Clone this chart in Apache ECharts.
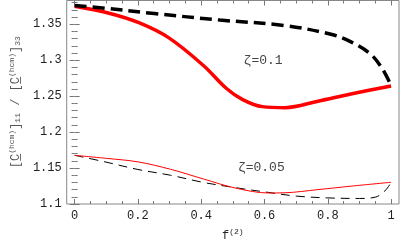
<!DOCTYPE html>
<html><head><meta charset="utf-8">
<script src="https://cdn.jsdelivr.net/npm/echarts@6/dist/echarts.min.js"></script>
<style>html,body{margin:0;padding:0;background:#fff}#c{width:400px;height:247px}</style>
</head><body><div id="c"></div>
<script>
// ---- data ----
const thickDashX = [0, 0.08, 0.252, 0.459, 0.665, 0.81, 0.873, 0.935, 0.971, 1.0];
const thickDashY = [1.376, 1.373, 1.3649, 1.3558, 1.3481, 1.336, 1.3255, 1.3085, 1.289, 1.265];
const thickRedX = [0, 0.112, 0.205, 0.298, 0.407, 0.479, 0.531, 0.593, 0.665, 0.769, 0.873, 1.0];
const thickRedY = [1.375, 1.365, 1.3518, 1.331, 1.2926, 1.261, 1.2452, 1.2354, 1.234, 1.243, 1.253, 1.2642];
const thinRedX = [0, 0.1, 0.2, 0.303, 0.407, 0.51, 0.614, 0.665, 0.769, 0.873, 1.0];
const thinRedY = [1.1677, 1.1635, 1.1586, 1.1483, 1.1348, 1.122, 1.1153, 1.1156, 1.12, 1.1248, 1.1302];
const thinDashX = [0, 0.096, 0.2, 0.303, 0.407, 0.51, 0.614, 0.7, 0.8, 0.9, 0.95, 0.98, 1.0];
const thinDashY = [1.1677, 1.1586, 1.148, 1.140, 1.130, 1.1226, 1.116, 1.111, 1.1085, 1.1077, 1.1095, 1.118, 1.13];
const xMajorTicks = [0, 0.2, 0.4, 0.6, 0.8, 1];
const xTickLabels = ['0', '0.2', '0.4', '0.6', '0.8', '1'];
const xMinorTicks = [0.05, 0.1, 0.15, 0.25, 0.3, 0.35, 0.45, 0.5, 0.55, 0.65, 0.7, 0.75, 0.85, 0.9, 0.95];
const yMajorTicks = [1.1, 1.15, 1.2, 1.25, 1.3, 1.35];
const yTickLabels = ['1.1', '1.15', '1.2', '1.25', '1.3', '1.35'];
const yMinorTicks = [1.11, 1.12, 1.13, 1.14, 1.16, 1.17, 1.18, 1.19, 1.21, 1.22, 1.23, 1.24, 1.26, 1.27, 1.28, 1.29, 1.31, 1.32, 1.33, 1.34, 1.36, 1.37, 1.38];
const annotations = [
  { text: 'ζ=0.1', x: 0.534, y: 1.2994 },
  { text: 'ζ=0.05', x: 0.516, y: 1.1505 }
];
// ---- chart ----
const X_MIN = -0.025, X_MAX = 1.025, Y_MIN = 1.1, Y_MAX = 1.383;
const FONT = "'Liberation Mono', 'Courier New', monospace";
const zip = (a, b) => a.map((v, i) => [v, b[i]]);
const chart = echarts.init(document.getElementById('c'), null, { renderer: 'canvas' });
function xAx(pos, ticks, len, labels, extra) {
  return Object.assign({
    type: 'value', min: X_MIN, max: X_MAX, position: pos,
    splitLine: { show: false },
    axisLine: { show: false },
    axisTick: { show: true, inside: true, length: len, customValues: ticks, lineStyle: { color: '#777' } },
    axisLabel: labels ? { show: true, customValues: xMajorTicks, margin: 6, fontFamily: FONT, fontSize: 12, color: '#222',
      formatter: v => { const i = xMajorTicks.findIndex(t => Math.abs(t - v) < 1e-9); return i >= 0 ? xTickLabels[i] : ''; } } : { show: false }
  }, extra || {});
}
function yAx(pos, ticks, len, labels, extra) {
  return Object.assign({
    type: 'value', min: Y_MIN, max: Y_MAX, position: pos,
    splitLine: { show: false },
    axisLine: { show: false },
    axisTick: { show: true, inside: true, length: len, customValues: ticks, lineStyle: { color: '#777' } },
    axisLabel: labels ? { show: true, customValues: yMajorTicks, margin: 5, fontFamily: FONT, fontSize: 12, color: '#222',
      formatter: v => { const i = yMajorTicks.findIndex(t => Math.abs(t - v) < 1e-9); return i >= 0 ? yTickLabels[i] : ''; } } : { show: false }
  }, extra || {});
}
chart.setOption({
  animation: false,
  grid: { left: 61, right: 1, top: 0.5, bottom: 38, show: true, borderColor: '#888', borderWidth: 1, backgroundColor: 'transparent' },
  xAxis: [
    xAx('bottom', xMajorTicks, 5, true, {
      name: '{f|f}{s|(2)}', nameLocation: 'middle', nameGap: 22,
      nameTextStyle: { fontFamily: FONT, color: '#222', rich: {
        f: { fontFamily: FONT, fontSize: 12, color: '#222', padding: [4, 0, 0, 0] },
        s: { fontFamily: FONT, fontSize: 8, color: '#222', padding: [0, 0, 4, 0] } } }
    }),
    xAx('bottom', xMinorTicks, 3, false),
    xAx('top', xMajorTicks, 5, false),
    xAx('top', xMinorTicks, 3, false)
  ],
  yAxis: [
    yAx('left', yMajorTicks, 5, true, {
      name: '[{u|C̲}{s|(hcm)}]{b|11} / [{u|C̲}{s|(hcm)}]{b|33}', nameLocation: 'middle', nameGap: 43, nameRotate: 90,
      nameTextStyle: { fontFamily: FONT, fontSize: 12, color: '#555', rich: {
        u: { fontFamily: FONT, fontSize: 12, color: '#555' },
        s: { fontFamily: FONT, fontSize: 8, color: '#555', padding: [0, 0, 7, 0] },
        b: { fontFamily: FONT, fontSize: 8, color: '#555', padding: [5, 0, 0, 0] } } }
    }),
    yAx('left', yMinorTicks, 3, false),
    yAx('right', yMajorTicks, 5, false),
    yAx('right', yMinorTicks, 3, false)
  ],
  series: [
    { type: 'line', name: 'thin dashed', data: zip(thinDashX, thinDashY), smooth: 0.35, symbol: 'none',
      lineStyle: { color: '#000', width: 1, type: [9, 6] }, z: 2 },
    { type: 'line', name: 'thin red', data: zip(thinRedX, thinRedY), smooth: 0.35, symbol: 'none',
      lineStyle: { color: '#ff0000', width: 1 }, z: 3 },
    { type: 'line', name: 'thick red', data: zip(thickRedX, thickRedY), smooth: 0.35, symbol: 'none',
      lineStyle: { color: '#ff0000', width: 3.5 }, z: 4 },
    { type: 'line', name: 'thick dashed', data: zip(thickDashX, thickDashY), smooth: 0.35, symbol: 'none',
      lineStyle: { color: '#000', width: 3.5, type: [12, 6] }, z: 5 }
  ]
});
chart.setOption({
  graphic: annotations.map(a => {
    const p = chart.convertToPixel({ xAxisIndex: 0, yAxisIndex: 0 }, [a.x, a.y]);
    return { type: 'text', x: p[0], y: p[1], style: { text: a.text, font: "13px 'Liberation Mono', monospace", fill: '#444', verticalAlign: 'middle', align: 'left' } };
  })
});
</script></body></html>
